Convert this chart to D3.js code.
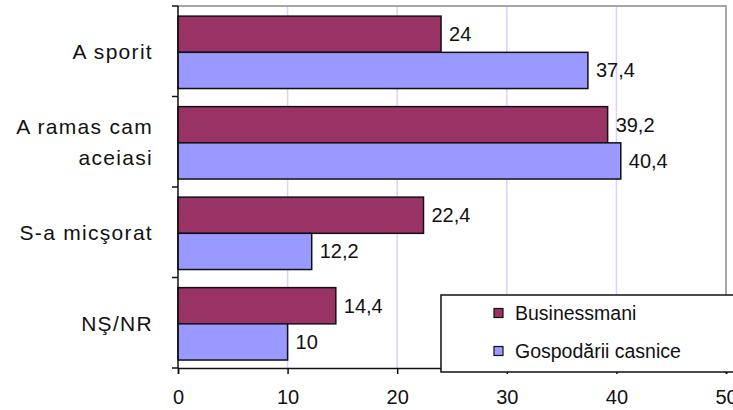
<!DOCTYPE html>
<html>
<head>
<meta charset="utf-8">
<script src="https://cdn.jsdelivr.net/npm/d3@7"></script>
<style>
  html, body { margin: 0; padding: 0; background: #fff; }
  svg { display: block; font-family: "Liberation Sans", Arial, sans-serif; }
</style>
</head>
<body>
<svg id="chart" width="733" height="410"></svg>
<script>
// Categories (rows, top to bottom) and the two series
const categories = ["A sporit", "A ramas cam aceiasi", "S-a micşorat", "NŞ/NR"];
const categoryLines = [["A sporit"], ["A ramas cam", "aceiasi"], ["S-a micşorat"], ["NŞ/NR"]];
const seriesNames = ["Businessmani", "Gospodării casnice"];
const businessmani = [24, 39.2, 22.4, 14.4];
const gospodarii = [37.4, 40.4, 12.2, 10];
const xTicks = [0, 10, 20, 30, 40, 50];

const colors = { "Businessmani": "#993366", "Gospodării casnice": "#9999FF" };

const svg = d3.select("#chart");
const plot = { left: 178, right: 726, top: 6, bottom: 368 };

const x = d3.scaleLinear().domain([0, 50]).range([plot.left, plot.right]);
const y = d3.scaleBand().domain(categories).range([plot.top, plot.bottom]).padding(0);
const inner = d3.scaleBand().domain(seriesNames).range([0, y.bandwidth()])
  .paddingInner(0).paddingOuter(0.25).align(0.56);

const rows = categories.map((c, i) => ({
  category: c,
  values: [
    { series: seriesNames[0], value: businessmani[i] },
    { series: seriesNames[1], value: gospodarii[i] }
  ]
}));

const fmt = v => String(v).replace(".", ",");

// Vertical gridlines
svg.append("g").selectAll("line")
  .data(xTicks.filter(t => t > 0 && t < 50))
  .join("line")
  .attr("x1", d => x(d)).attr("x2", d => x(d))
  .attr("y1", plot.top).attr("y2", plot.bottom)
  .attr("stroke", "#d4d4ff").attr("stroke-width", 1.5);

// Plot frame (top and right)
svg.append("path")
  .attr("d", `M${plot.left},${plot.top}H${plot.right}V${plot.bottom}`)
  .attr("fill", "none").attr("stroke", "#a6a6a6").attr("stroke-width", 2);

// Bars
const groups = svg.append("g").selectAll("g")
  .data(rows).join("g")
  .attr("transform", d => `translate(0,${y(d.category)})`);

groups.selectAll("rect")
  .data(d => d.values).join("rect")
  .attr("x", x(0))
  .attr("y", d => inner(d.series))
  .attr("width", d => x(d.value) - x(0))
  .attr("height", inner.bandwidth())
  .attr("fill", d => colors[d.series])
  .attr("stroke", "#111").attr("stroke-width", 1.5);

groups.selectAll("text")
  .data(d => d.values).join("text")
  .attr("x", d => x(d.value) + 8)
  .attr("y", d => inner(d.series) + inner.bandwidth() / 2 + 7)
  .attr("font-size", 20)
  .attr("fill", "#111")
  .text(d => fmt(d.value));

// X axis
const xAxis = svg.append("g")
  .attr("transform", `translate(0,${plot.bottom})`)
  .call(d3.axisBottom(x).tickValues(xTicks).tickSize(6).tickPadding(16).tickFormat(d3.format("d")));
xAxis.select(".domain").attr("stroke", "#111").attr("stroke-width", 1.5);
xAxis.selectAll(".tick line").attr("stroke", "#111").attr("stroke-width", 1.5);
xAxis.selectAll(".tick text").attr("font-size", 20).attr("fill", "#111")
  .attr("font-family", "'Liberation Sans', Arial, sans-serif");

// Y axis: ticks at band boundaries
const boundaries = categories.map(c => y(c)).concat([plot.bottom]);
svg.append("line")
  .attr("x1", plot.left).attr("x2", plot.left)
  .attr("y1", plot.top).attr("y2", plot.bottom)
  .attr("stroke", "#111").attr("stroke-width", 1.5);
svg.append("g").selectAll("line")
  .data(boundaries).join("line")
  .attr("x1", plot.left - 6).attr("x2", plot.left)
  .attr("y1", d => d).attr("y2", d => d)
  .attr("stroke", "#111").attr("stroke-width", 1.5);

// Category labels
const labels = svg.append("g").selectAll("text")
  .data(categories).join("text")
  .attr("text-anchor", "end")
  .attr("font-size", 21)
  .attr("letter-spacing", 1.3)
  .attr("fill", "#111")
  .attr("transform", d => `translate(153,${y(d) + y.bandwidth() / 2})`);
labels.each(function (d, i) {
  const lines = categoryLines[i];
  const lh = 31;
  d3.select(this).selectAll("tspan")
    .data(lines).join("tspan")
    .attr("x", 0)
    .attr("y", (l, j) => (j - (lines.length - 1) / 2) * lh + 8)
    .text(l => l);
});

// Legend
const legend = svg.append("g").attr("transform", "translate(441,295)");
legend.append("rect")
  .attr("width", 310).attr("height", 77)
  .attr("fill", "#fff").attr("stroke", "#111").attr("stroke-width", 1.5);
const items = legend.selectAll("g.item")
  .data(seriesNames).join("g")
  .attr("class", "item")
  .attr("transform", (d, i) => `translate(0,${18 + i * 38})`);
items.append("rect")
  .attr("x", 53).attr("y", -4.5).attr("width", 9).attr("height", 9)
  .attr("fill", d => colors[d]).attr("stroke", "#111").attr("stroke-width", 1.2);
items.append("text")
  .attr("x", 74).attr("y", 7)
  .attr("font-size", 19.5).attr("fill", "#111")
  .text(d => d);
</script>
</body>
</html>
